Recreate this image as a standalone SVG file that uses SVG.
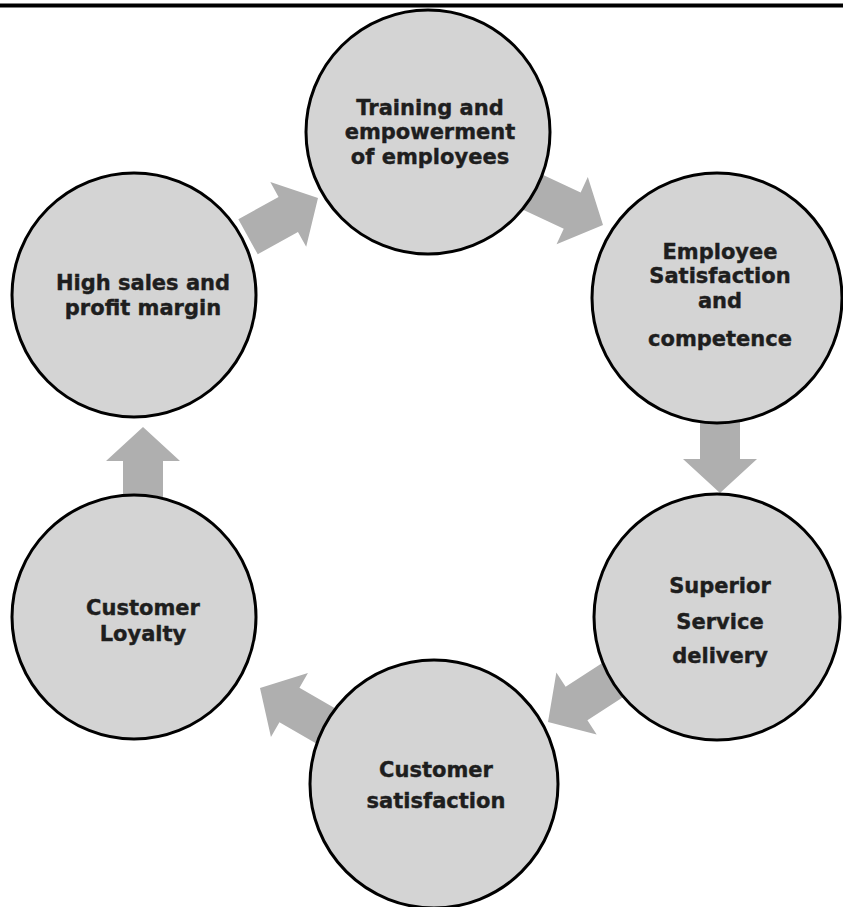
<svg xmlns="http://www.w3.org/2000/svg" width="843" height="907" viewBox="0 0 843 907">
<style>
.node{fill:#d4d4d4;stroke:#000;stroke-width:3}
.lbl{font-family:"DejaVu Sans","Liberation Sans",sans-serif;font-weight:bold;font-size:21px;fill:#1e1e1e;stroke:#1e1e1e;stroke-width:0.4;text-anchor:middle}
.arr{fill:#afafaf}
</style>
<defs>
<path id="arrow" d="M-80,-20 L-34,-20 L-34,-37 L0,0 L-34,37 L-34,20 L-80,20 Z"/>
</defs>
<rect x="0" y="3.5" width="843" height="4" fill="#000"/>
<g id="connectors" class="arr">
<use href="#arrow" transform="translate(318,198) rotate(-29)"/>
<use href="#arrow" transform="translate(603,225) rotate(25)"/>
<use href="#arrow" transform="translate(720,493) rotate(90)"/>
<use href="#arrow" transform="translate(548,722) rotate(147)"/>
<use href="#arrow" transform="translate(260,688) rotate(210)"/>
<use href="#arrow" transform="translate(143,427) rotate(-90)"/>
</g>
<g id="training">
<circle class="node" cx="428" cy="132" r="122"/>
<text class="lbl" x="430" y="115">Training and</text>
<text class="lbl" x="430" y="139">empowerment</text>
<text class="lbl" x="430" y="164">of employees</text>
</g>
<g id="employee">
<circle class="node" cx="717" cy="298" r="125"/>
<text class="lbl" x="720" y="259">Employee</text>
<text class="lbl" x="720" y="283">Satisfaction</text>
<text class="lbl" x="720" y="308">and</text>
<text class="lbl" x="720" y="346">competence</text>
</g>
<g id="superior">
<circle class="node" cx="717" cy="617" r="123"/>
<text class="lbl" x="720" y="593">Superior</text>
<text class="lbl" x="720" y="629">Service</text>
<text class="lbl" x="720" y="663">delivery</text>
</g>
<g id="custsat">
<circle class="node" cx="434" cy="784" r="124"/>
<text class="lbl" x="436" y="777">Customer</text>
<text class="lbl" x="436" y="808">satisfaction</text>
</g>
<g id="loyalty">
<circle class="node" cx="134" cy="617" r="122"/>
<text class="lbl" x="143" y="615">Customer</text>
<text class="lbl" x="143" y="641">Loyalty</text>
</g>
<g id="highsales">
<circle class="node" cx="134" cy="295" r="122"/>
<text class="lbl" x="143" y="290">High sales and</text>
<text class="lbl" x="143" y="315">profit margin</text>
</g>
</svg>
